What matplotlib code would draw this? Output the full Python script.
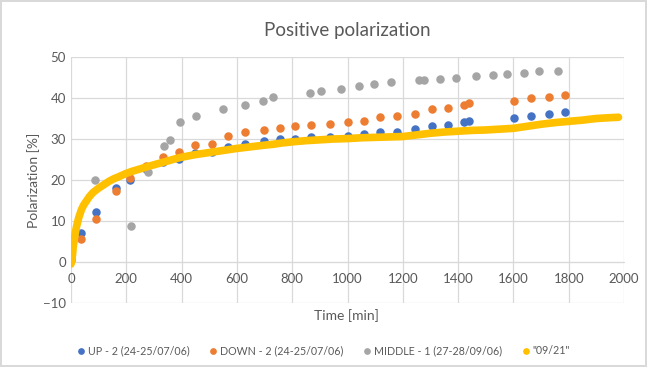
import matplotlib.pyplot as plt

plt.rcParams['font.family'] = ['Lato', 'DejaVu Sans']

# UP - 2 (24-25/07/06)
up_t = [0, 36, 92, 163, 212, 271, 331, 390, 450, 510, 569, 629, 699, 756, 810,
        868, 938, 1000, 1059, 1119, 1179, 1243, 1304, 1364, 1422, 1439, 1603,
        1663, 1727, 1788]
up_p = [1.1, 7.1, 12.1, 18.0, 20.1, 22.8, 24.3, 25.1, 26.5, 26.8, 28.1, 28.8,
        29.4, 29.9, 30.1, 30.4, 30.4, 30.7, 31.1, 31.6, 31.8, 32.4, 33.2, 33.4,
        34.2, 34.3, 35.0, 35.6, 36.1, 36.5]

# DOWN - 2 (24-25/07/06)
down_t = up_t
down_p = [0.4, 5.7, 10.6, 17.4, 20.4, 23.4, 25.5, 26.9, 28.5, 28.8, 30.8, 31.6,
          32.2, 32.8, 33.2, 33.5, 33.7, 34.1, 34.4, 35.3, 35.5, 36.2, 37.3, 37.6,
          38.2, 38.7, 39.3, 39.9, 40.3, 40.8]

# MIDDLE - 1 (27-28/09/06)
mid_t = [0, 86, 217, 277, 338, 358, 393, 451, 550, 629, 696, 731, 866, 905,
         976, 1041, 1096, 1156, 1259, 1277, 1334, 1394, 1463, 1526, 1575, 1640,
         1693, 1761]
mid_p = [3.0, 19.9, 8.8, 21.9, 28.3, 29.8, 34.1, 35.5, 37.3, 38.4, 39.2, 40.2,
         41.1, 41.8, 42.3, 42.9, 43.3, 43.8, 44.5, 44.5, 44.7, 44.9, 45.4, 45.6,
         45.8, 46.1, 46.5, 46.5]

# "09/21"
y21_t = [0, 3, 6, 8, 12, 16, 20, 28, 38, 46, 55, 66, 79, 90, 102, 120, 138,
         155, 173, 196, 220, 250, 279, 310, 338, 368, 396, 450, 500, 550, 600,
         650, 700, 730, 760, 800, 850, 900, 950, 1000, 1050, 1100, 1150, 1200,
         1250, 1300, 1350, 1400, 1450, 1500, 1550, 1600, 1650, 1700, 1750, 1800,
         1850, 1900, 1950, 1980]
y21_p = [-0.5, 0.5, 2.0, 3.7, 5.5, 7.2, 8.6, 10.8, 12.8, 13.9, 14.8, 15.9,
         16.9, 17.5, 18.1, 18.9, 19.7, 20.3, 20.8, 21.5, 22.1, 22.7, 23.3, 23.9,
         24.4, 25.0, 25.5, 26.2, 26.7, 27.2, 27.7, 28.1, 28.5, 28.7, 29.0, 29.3,
         29.6, 29.8, 30.0, 30.1, 30.3, 30.4, 30.5, 30.6, 31.0, 31.4, 31.7, 31.9,
         32.1, 32.2, 32.4, 32.6, 33.1, 33.6, 34.0, 34.3, 34.6, 35.0, 35.2, 35.3]

grey = '#595959'

fig = plt.figure(figsize=(6.47, 3.67), dpi=100)
fig.patch.set_edgecolor('#d9d9d9')
fig.patch.set_linewidth(1.5)
ax = fig.add_axes([0.1097, 0.1744, 0.8548, 0.6703])

ax.scatter(up_t, up_p, s=26, color='#4472C4', zorder=3, label='UP - 2 (24-25/07/06)')
ax.scatter(down_t, down_p, s=26, color='#ED7D31', zorder=3, label='DOWN - 2 (24-25/07/06)')
ax.scatter(mid_t, mid_p, s=26, color='#A5A5A5', zorder=3, label='MIDDLE - 1 (27-28/09/06)')
ax.plot(y21_t, y21_p, color='#FFC000', lw=5.5, solid_capstyle='round', zorder=4)
ax.scatter([], [], s=26, color='#FFC000', label='"09/21"')

ax.set_xlim(0, 2000)
ax.set_ylim(-10, 50)
ax.set_xticks(range(0, 2001, 200))
ax.set_yticks(range(-10, 51, 10))
ax.grid(True, color='#d9d9d9', lw=0.9)
ax.set_axisbelow(True)
for s in ['top', 'right', 'left']:
    ax.spines[s].set_visible(False)
ax.spines['bottom'].set_position(('data', 0))
ax.spines['bottom'].set_color('#d9d9d9')
ax.tick_params(length=0, colors=grey, labelsize=9.5)
ax.tick_params(axis='x', pad=8)

ax.set_title('Positive polarization', fontsize=13.5, color=grey, pad=15)
ax.set_ylabel('Polarization [%]', fontsize=10, color=grey, labelpad=2)
fig.text(0.536, 0.14, 'Time [min]', ha='center', va='center', fontsize=10, color=grey)

leg = fig.legend(loc='center', bbox_to_anchor=(0.5, 0.045), ncol=4, frameon=False,
                 fontsize=7.7, handlelength=0.8, handletextpad=0.25,
                 columnspacing=1.8, markerscale=0.75)
for t in leg.get_texts():
    t.set_color(grey)

fig.savefig('out.png', dpi=100, edgecolor=fig.get_edgecolor())
